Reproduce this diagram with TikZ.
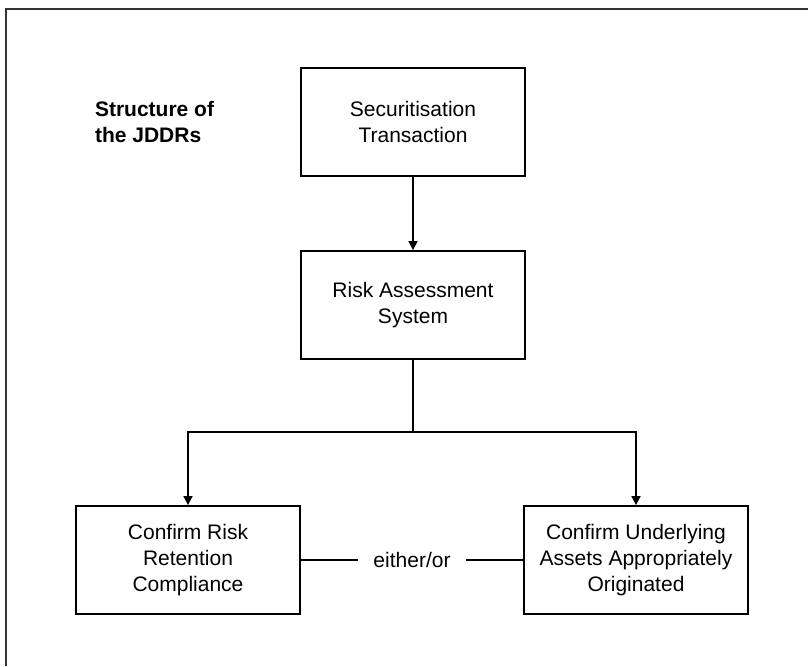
\documentclass[tikz,border=0pt]{standalone}
\usepackage{fontspec}
\setmainfont{Liberation Sans}
\usetikzlibrary{arrows.meta}

\tikzset{
  stagebox/.style={draw, line width=0.9pt, minimum width=112pt, minimum height=54pt,
    align=center, inner sep=0pt, font=\fontsize{10.5}{13}\selectfont},
  link/.style={line width=0.8pt},
  linkarrow/.style={link, -{Triangle[length=4.5pt,width=4.5pt]}}
}

\begin{document}
\begin{tikzpicture}[x=0.5pt, y=-0.5pt]

\useasboundingbox (0, 0) rectangle (808, 666);

% outer frame, open to the right and below
\draw[black!80, line width=1pt] (6, 666) -- (6, 9) -- (808, 9);

\node[anchor=west, align=left, font=\bfseries\fontsize{10.5}{13}\selectfont] (title) at (88, 122) {Structure of\\the JDDRs};

\node[stagebox] (trans) at (413, 122) {Securitisation\\Transaction};
\node[stagebox] (ras) at (413, 305) {Risk Assessment\\System};

\node[stagebox] (rrc) at (188, 560) {Confirm Risk\\Retention\\Compliance};
\node[stagebox] (uao) at (636, 560) {Confirm Underlying\\Assets Appropriately\\Originated};

\node[font=\fontsize{10.5}{13}\selectfont, inner xsep=7.5pt] (either) at (412, 560) {either/or};

\coordinate (split) at (413, 432);

\draw[linkarrow] (trans) -- (ras);
\draw[link] (ras.south) -- (split);
\draw[linkarrow] (split) -| (rrc.north);
\draw[linkarrow] (split) -| (uao.north);

\draw[link] (rrc.east) -- (either.west);
\draw[link] (either.east) -- (uao.west);

\end{tikzpicture}
\end{document}
